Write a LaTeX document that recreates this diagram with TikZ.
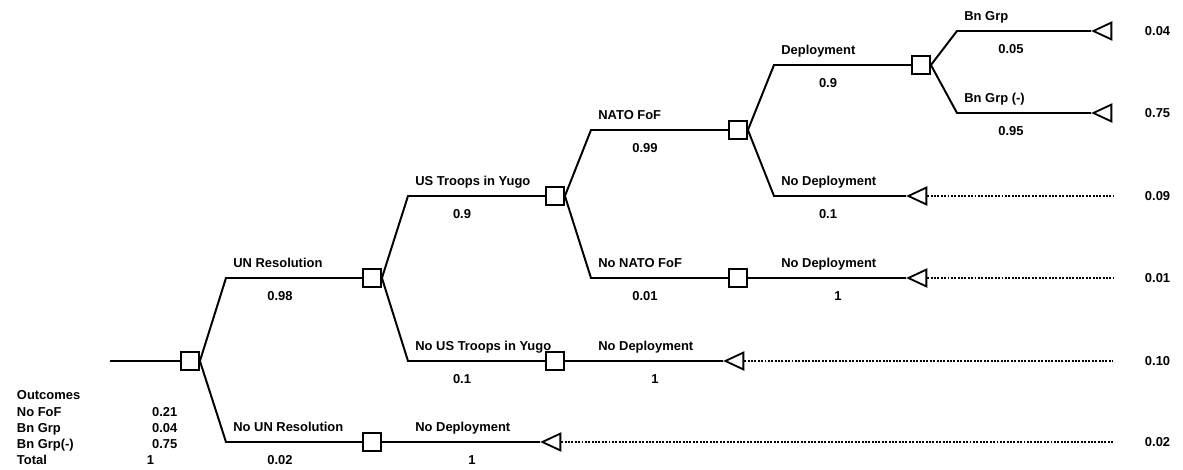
\documentclass[tikz,border=0pt]{standalone}
\usepackage{fontspec}
\setmainfont{Liberation Sans}
\usetikzlibrary{shapes.geometric}

\begin{document}
\begin{tikzpicture}[
		font=\fontsize{9.2}{11}\selectfont\bfseries,
		branch/.style={line width=1.4pt},
		tail/.style={line width=0.9pt, dash pattern=on 1.4pt off 1pt},
		decision/.style={draw, line width=1.3pt, fill=white, minimum size=0.45cm, inner sep=0pt},
		terminal/.style={draw, line width=1.3pt, fill=white, isosceles triangle, isosceles triangle stretches, shape border rotate=180, minimum width=0.42cm, minimum height=0.45cm, inner sep=0pt},
		lbl/.style={anchor=base west},
		prob/.style={anchor=base},
		val/.style={anchor=west}]
		\useasboundingbox (0,0) rectangle (29.575,11.75);
		
		% Entscheidungsknoten
		\coordinate (start) at (2.75,2.725);
		\node[decision] (n1) at (4.75,2.725) {};
		\node[decision] (n2) at (9.3,4.8) {};
		\node[decision] (n3) at (9.3,0.7) {};
		\node[decision] (n4) at (13.875,6.85) {};
		\node[decision] (n5) at (13.875,2.725) {};
		\node[decision] (n6) at (18.45,8.5) {};
		\node[decision] (n7) at (18.45,4.8) {};
		\node[decision] (n8) at (23.025,10.125) {};
		
		% Endpunkte
		\node[terminal] (t1) at (13.875,0.7) {};
		\node[terminal] (t2) at (18.45,2.725) {};
		\node[terminal] (t3) at (23.025,4.8) {};
		\node[terminal] (t4) at (23.025,6.85) {};
		\node[terminal] (t5) at (27.65,10.975) {};
		\node[terminal] (t6) at (27.65,8.925) {};
		
		% Knicke der Aeste
		\coordinate (e1) at (5.65,4.8);
		\coordinate (e2) at (5.65,0.7);
		\coordinate (e3) at (10.2,6.85);
		\coordinate (e4) at (10.2,2.725);
		\coordinate (e5) at (14.775,8.5);
		\coordinate (e6) at (14.775,4.8);
		\coordinate (e7) at (19.35,10.125);
		\coordinate (e8) at (19.35,6.85);
		\coordinate (e9) at (23.925,10.975);
		\coordinate (e10) at (23.925,8.925);
		
		\coordinate (z1) at (27.825,0.7);
		\coordinate (z2) at (27.825,2.725);
		\coordinate (z3) at (27.825,4.8);
		\coordinate (z4) at (27.825,6.85);
		
		% Aeste
		\draw[branch] (start) -- (n1);
		\draw[branch] (n1.east) -- (e1) -- (n2);
		\draw[branch] (n1.east) -- (e2) -- (n3);
		\draw[branch] (n3) -- (t1);
		\draw[branch] (n2.east) -- (e3) -- (n4);
		\draw[branch] (n2.east) -- (e4) -- (n5);
		\draw[branch] (n5) -- (t2);
		\draw[branch] (n4.east) -- (e5) -- (n6);
		\draw[branch] (n4.east) -- (e6) -- (n7);
		\draw[branch] (n7) -- (t3);
		\draw[branch] (n6.east) -- (e7) -- (n8);
		\draw[branch] (n6.east) -- (e8) -- (t4);
		\draw[branch] (n8.east) -- (e9) -- (t5);
		\draw[branch] (n8.east) -- (e10) -- (t6);
		
		\draw[tail] (t1) -- (z1);
		\draw[tail] (t2) -- (z2);
		\draw[tail] (t3) -- (z3);
		\draw[tail] (t4) -- (z4);
		
		% Beschriftung der Aeste
		\node[lbl] (l1) at (5.71,5.06) {UN Resolution};
		\node[lbl] (l2) at (5.71,0.96) {No UN Resolution};
		\node[lbl] (l3) at (10.26,0.96) {No Deployment};
		\node[lbl] (l4) at (10.26,7.11) {US Troops in Yugo};
		\node[lbl] (l5) at (10.26,2.985) {No US Troops in Yugo};
		\node[lbl] (l6) at (14.835,2.985) {No Deployment};
		\node[lbl] (l7) at (14.835,8.76) {NATO FoF};
		\node[lbl] (l8) at (14.835,5.06) {No NATO FoF};
		\node[lbl] (l9) at (19.41,5.06) {No Deployment};
		\node[lbl] (l10) at (19.41,10.385) {Deployment};
		\node[lbl] (l11) at (19.41,7.11) {No Deployment};
		\node[lbl] (l12) at (23.985,11.235) {Bn Grp};
		\node[lbl] (l13) at (23.985,9.185) {Bn Grp (-)};
		
		% Wahrscheinlichkeiten
		\node[prob] (p1) at (7.0,4.23) {0.98};
		\node[prob] (p2) at (7.0,0.13) {0.02};
		\node[prob] (p3) at (11.8,0.13) {1};
		\node[prob] (p4) at (11.55,6.28) {0.9};
		\node[prob] (p5) at (11.55,2.155) {0.1};
		\node[prob] (p6) at (16.375,2.155) {1};
		\node[prob] (p7) at (16.125,7.93) {0.99};
		\node[prob] (p8) at (16.125,4.23) {0.01};
		\node[prob] (p9) at (20.95,4.23) {1};
		\node[prob] (p10) at (20.7,9.555) {0.9};
		\node[prob] (p11) at (20.7,6.28) {0.1};
		\node[prob] (p12) at (25.275,10.405) {0.05};
		\node[prob] (p13) at (25.275,8.355) {0.95};
		
		% Werte rechts
		\node[val] (r1) at (28.5,10.975) {0.04};
		\node[val] (r2) at (28.5,8.925) {0.75};
		\node[val] (r3) at (28.5,6.85) {0.09};
		\node[val] (r4) at (28.5,4.8) {0.01};
		\node[val] (r5) at (28.5,2.725) {0.10};
		\node[val] (r6) at (28.5,0.7) {0.02};
		
		% Outcomes
		\node[lbl] (o0) at (0.3,1.75) {Outcomes};
		\node[lbl] (o1) at (0.3,1.33) {No FoF};
		\node[lbl] (o2) at (0.3,0.93) {Bn Grp};
		\node[lbl] (o3) at (0.3,0.54) {Bn Grp(-)};
		\node[lbl] (o4) at (0.3,0.13) {Total};
		\node[lbl] (v1) at (3.68,1.33) {0.21};
		\node[lbl] (v2) at (3.68,0.93) {0.04};
		\node[lbl] (v3) at (3.68,0.54) {0.75};
		\node[lbl] (v4) at (3.55,0.13) {1};
		
	\end{tikzpicture}
\end{document}
